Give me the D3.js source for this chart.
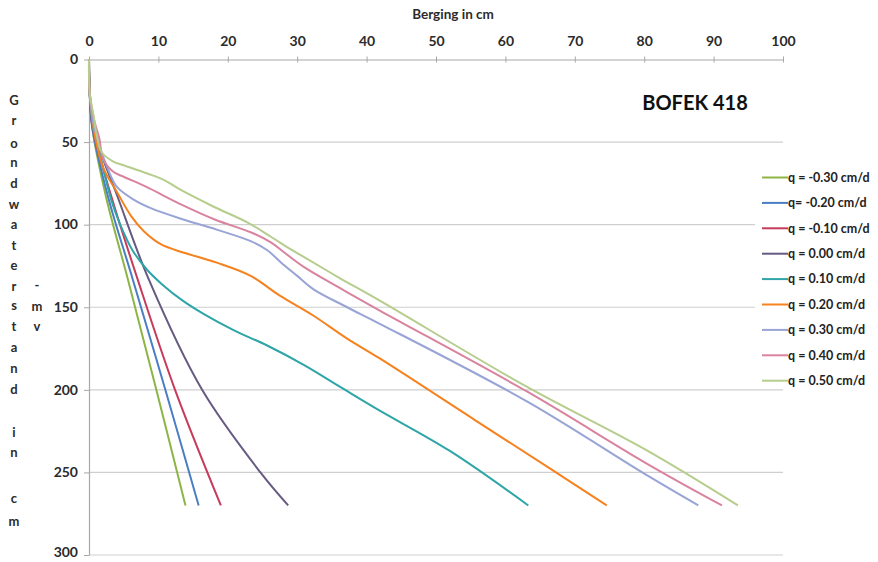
<!DOCTYPE html>
<html>
<head>
<meta charset="utf-8">
<script src="https://cdn.jsdelivr.net/npm/d3@7"></script>
<style>
  body { margin: 0; background: #fff; }
  svg { display: block; }
  text { font-family: Lato, "Open Sans", sans-serif; font-weight: 700; }
</style>
</head>
<body>
<svg id="chart" width="878" height="562"></svg>
<script>
// Axis ticks
const xTicks = [0, 10, 20, 30, 40, 50, 60, 70, 80, 90, 100];
const yTicks = [0, 50, 100, 150, 200, 250, 300];

// Series labels and colours (q = flux in cm/d)
const seriesNames = [
  "q = -0.30 cm/d", "q= -0.20 cm/d", "q = -0.10 cm/d",
  "q = 0.00 cm/d", "q = 0.10 cm/d", "q = 0.20 cm/d",
  "q = 0.30 cm/d", "q = 0.40 cm/d", "q = 0.50 cm/d"
];
const seriesColors = [
  "#8db545", "#4a7ec4", "#c63b5a",
  "#665a82", "#2ea5a8", "#f5821f",
  "#98a4d6", "#d9839e", "#b6cd8d"
];

// Berging (cm) against groundwater depth (cm below surface): [berging, depth]
const qMinus030 = [[0,0],[0.1,20],[0.5,42],[2.5,84],[5.6,133],[9.7,200],[13.9,270]];
const qMinus020 = [[0,0],[0.1,20],[0.5,42],[2.8,84],[6.3,133],[11.0,200],[15.8,270]];
const qMinus010 = [[0,0],[0.1,20],[0.55,42],[3.3,84],[7.0,133],[12.4,200],[19.0,270]];
const qZero     = [[0,0],[0.1,20],[0.6,42],[4.2,84],[8.6,133],[16.3,200],[24.7,250],[28.7,270]];
const qPlus010  = [[0,0],[0.1,20],[0.6,42],[1.6,58],[3.2,85],[4.5,100],[6.2,115],[8.3,127],[10.5,136],[13.5,146],[16.5,154],[20.9,164],[25.6,173],[31.0,185],[36.5,199],[41.9,212.6],[52.0,237],[63.3,270]];
const qPlus020  = [[0,0],[0.1,20],[0.6,40],[1.3,55],[2.2,67],[4.0,80],[6.1,95],[7.9,104],[10.4,112],[13.7,117],[18.4,123],[23.3,131],[27.5,143],[32.3,155],[37.2,169],[41.9,181],[55.5,218],[66.4,247.6],[74.6,270]];
const qPlus030  = [[0,0],[0.1,20],[0.6,38],[1.5,52],[2.6,65],[4.0,77],[6.5,85],[8.9,90],[13.7,97],[18.4,103],[23.3,110],[25.7,115.5],[27.7,123],[30.0,131],[32.3,139],[37.2,150],[41.9,160],[63.1,207],[80.5,252],[87.8,270]];
const qPlus040  = [[0,0],[0.1,20],[0.7,36],[1.5,48],[2.0,60],[3.5,68],[5.0,71],[8.2,77],[13.4,88],[18.2,97],[23.3,104.6],[26.2,110.7],[28.1,116.7],[31.0,125.7],[36.0,138],[41.9,152],[63.1,201],[80.8,245.7],[91.2,270]];
const qPlus050  = [[0,0],[0.1,20],[0.7,35],[1.2,48],[1.8,56],[3.5,61.8],[5.0,64],[8.4,69],[10.7,72.7],[13.1,78.7],[17.9,89],[22.8,98.6],[26.1,107],[29.1,115],[31.0,119.7],[36.0,132],[41.9,146],[62.8,197.5],[80.5,237],[93.5,270]];

const seriesData = [qMinus030, qMinus020, qMinus010, qZero, qPlus010, qPlus020, qPlus030, qPlus040, qPlus050];

const svg = d3.select("#chart");
const x = d3.scaleLinear().domain([0, 100]).range([89, 783]);
const y = d3.scaleLinear().domain([0, 300]).range([59.5, 555]);

// Horizontal gridlines
svg.append("g")
  .selectAll("line")
  .data(yTicks.filter(v => v > 0))
  .join("line")
  .attr("x1", x(0)).attr("x2", x(100))
  .attr("y1", d => y(d)).attr("y2", d => y(d))
  .attr("stroke", "#cfcfcf").attr("stroke-width", 1.2);

// Top axis (berging)
const xAxis = svg.append("g")
  .attr("transform", `translate(0,${y(0)})`)
  .call(d3.axisTop(x).tickValues(xTicks).tickSize(4).tickSizeOuter(0).tickPadding(10));
xAxis.select(".domain").attr("stroke", "#a8a8a8").attr("stroke-width", 1.2);
xAxis.selectAll(".tick line").attr("stroke", "#a8a8a8").attr("y2", 3).attr("y1", -3);
xAxis.selectAll(".tick text").attr("fill", "#2b2b2b").style("font-size", "14px");

// Left axis (groundwater depth)
const yAxis = svg.append("g")
  .attr("transform", `translate(${x(0)},0)`)
  .call(d3.axisLeft(y).tickValues(yTicks).tickSize(5).tickSizeOuter(0).tickPadding(6));
yAxis.select(".domain").attr("stroke", "#a8a8a8").attr("stroke-width", 1.2);
yAxis.selectAll(".tick line").attr("stroke", "#a8a8a8");
yAxis.selectAll(".tick text").attr("fill", "#2b2b2b").style("font-size", "14px")
  .attr("dy", d => d === 300 ? "0.12em" : "0.3em");

// Axis title on top
svg.append("text")
  .attr("x", 453).attr("y", 19)
  .attr("text-anchor", "middle")
  .attr("fill", "#2b2b2b")
  .style("font-size", "13.5px")
  .text("Berging in cm");

// Vertical, letter-stacked y-axis title
const yTitleMain = ["G","r","o","n","d","w","a","t","e","r","s","t","a","n","d","i","n","c","m"];
const yTitleMainPos = [100,120,143,162,183,204,224,245,265,286,305,326,347,368,389,432,452,498,521];
svg.append("g")
  .selectAll("text")
  .data(yTitleMain)
  .join("text")
  .attr("x", 14).attr("y", (d, i) => yTitleMainPos[i])
  .attr("dy", "0.35em")
  .attr("text-anchor", "middle")
  .attr("fill", "#2b2b2b")
  .style("font-size", "13px")
  .text(d => d);

const yTitleSub = ["-","m","v"];
const yTitleSubPos = [285, 306, 326];
svg.append("g")
  .selectAll("text")
  .data(yTitleSub)
  .join("text")
  .attr("x", 37).attr("y", (d, i) => yTitleSubPos[i])
  .attr("dy", "0.35em")
  .attr("text-anchor", "middle")
  .attr("fill", "#2b2b2b")
  .style("font-size", "13px")
  .text(d => d);

// Chart label
svg.append("text")
  .attr("x", 695).attr("y", 110)
  .attr("text-anchor", "middle")
  .attr("fill", "#111")
  .style("font-size", "20px")
  .text("BOFEK 418");

// Curves
const line = d3.line()
  .x(d => x(d[0]))
  .y(d => y(d[1]))
  .curve(d3.curveCatmullRom.alpha(0.5));

svg.append("g")
  .selectAll("path")
  .data(seriesData)
  .join("path")
  .attr("d", line)
  .attr("fill", "none")
  .attr("stroke", (d, i) => seriesColors[i])
  .attr("stroke-width", 2)
  .attr("stroke-linejoin", "round");

// Legend
const legend = svg.append("g");
legend.append("rect")
  .attr("x", 755).attr("y", 165).attr("width", 123).attr("height", 224)
  .attr("fill", "#fff");
const items = legend.selectAll("g.item")
  .data(seriesNames)
  .join("g")
  .attr("class", "item")
  .attr("transform", (d, i) => `translate(0,${177.5 + i * 25.4})`);
items.append("line")
  .attr("x1", 762).attr("x2", 788)
  .attr("stroke", (d, i) => seriesColors[i])
  .attr("stroke-width", 2);
items.append("text")
  .attr("x", 788).attr("dy", "0.35em")
  .attr("fill", "#222")
  .style("font-size", "12.5px")
  .text(d => d);
</script>
</body>
</html>
